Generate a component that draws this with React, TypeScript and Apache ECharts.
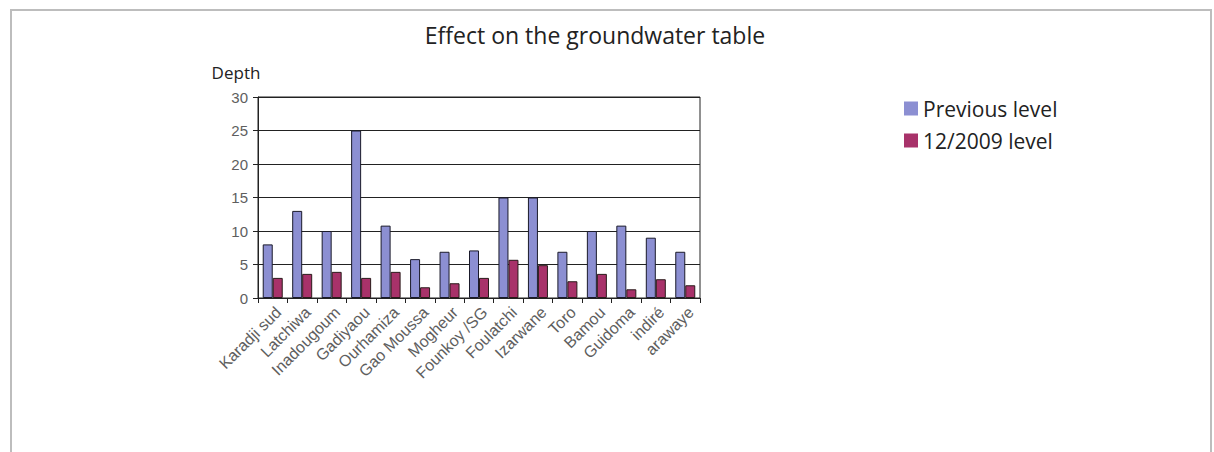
import React, { useEffect, useRef } from "react";
import * as echarts from "echarts";

const categories = [
  "Karadji sud",
  "Latchiwa",
  "Inadougoum",
  "Gadiyaou",
  "Ourhamiza",
  "Gao Moussa",
  "Mogheur",
  "Founkoy /SG",
  "Foulatchi",
  "Izarwane",
  "Toro",
  "Bamou",
  "Guidoma",
  "indiré",
  "arawaye",
];
const previousLevel = [8, 13, 10, 25, 10.8, 5.8, 6.9, 7.1, 15, 15, 6.9, 10, 10.8, 9, 6.9];
const level2009 = [3, 3.6, 3.9, 3, 3.9, 1.6, 2.2, 3, 5.7, 4.9, 2.5, 3.6, 1.3, 2.8, 1.9];
const seriesNames = ["Previous level", "12/2009 level"];
const yTicks = { min: 0, max: 30, interval: 5 };

export default function App() {
  const ref = useRef<HTMLDivElement>(null);
  useEffect(() => {
    if (!ref.current) return;
    const chart = echarts.init(ref.current, null, { renderer: "svg" });
    const tickFont = "'Liberation Sans', Arial, sans-serif";
    const textFont = "'Open Sans', 'Noto Sans', sans-serif";
    chart.setOption({
      animation: false,
      backgroundColor: "#ffffff",
      title: {
        text: "Effect on the groundwater table",
        left: 590,
        textAlign: "center",
        top: 18,
        textStyle: { fontFamily: textFont, fontSize: 23, fontWeight: "normal", color: "#222" },
      },
      graphic: [
        {
          type: "rect",
          shape: { x: 11, y: 10, width: 1200, height: 470 },
          style: { fill: "none", stroke: "#bdbdbd", lineWidth: 2 },
          silent: true,
        },
        {
          type: "text",
          x: 236,
          y: 72,
          style: {
            text: "Depth",
            fontFamily: textFont,
            fontSize: 17,
            fill: "#222",
            align: "center",
            verticalAlign: "middle",
          },
        },
      ],
      legend: {
        orient: "vertical",
        left: 904,
        top: 98,
        padding: 0,
        icon: "rect",
        itemWidth: 14,
        itemHeight: 14,
        itemGap: 11,
        itemStyle: { borderWidth: 0 },
        textStyle: { fontFamily: textFont, fontSize: 21, color: "#222", padding: [0, 0, 0, 0] },
        data: seriesNames,
      },
      grid: {
        left: 258,
        right: 514,
        top: 97,
        bottom: 154,
        show: true,
        borderColor: "#222",
        borderWidth: 1,
      },
      xAxis: {
        type: "category",
        data: categories,
        axisLine: { lineStyle: { color: "#222", width: 1 } },
        axisTick: { show: true, length: 5, lineStyle: { color: "#222" } },
        axisLabel: {
          rotate: 45,
          interval: 0,
          margin: 6,
          verticalAlign: "top",
          fontFamily: tickFont,
          fontSize: 16,
          color: "#5e5e5e",
        },
      },
      yAxis: {
        type: "value",
        min: yTicks.min,
        max: yTicks.max,
        interval: yTicks.interval,
        axisLine: { show: true, lineStyle: { color: "#222", width: 1 } },
        axisTick: { show: true, length: 5, lineStyle: { color: "#222" } },
        axisLabel: { fontFamily: tickFont, fontSize: 15, color: "#5e5e5e", margin: 10 },
        splitLine: { show: true, lineStyle: { color: "#222", width: 1 } },
      },
      series: [
        {
          name: seriesNames[0],
          type: "bar",
          data: previousLevel,
          barWidth: 10,
          barGap: "0%",
          itemStyle: { color: "#8c8fd2", borderColor: "#1a1a2a", borderWidth: 1 },
        },
        {
          name: seriesNames[1],
          type: "bar",
          data: level2009,
          barWidth: 10,
          barGap: "0%",
          itemStyle: { color: "#a8326a", borderColor: "#2a1a1a", borderWidth: 1 },
        },
      ],
    });
    return () => chart.dispose();
  }, []);
  return (
    <div
      ref={ref}
      style={{ position: "fixed", left: 0, top: 0, width: 1214, height: 452 }}
    />
  );
}
